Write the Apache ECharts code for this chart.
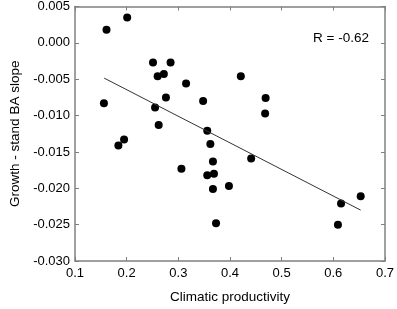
<!DOCTYPE html>
<html>
<head>
<meta charset="utf-8">
<script src="https://cdn.jsdelivr.net/npm/echarts@6/dist/echarts.min.js"></script>
<style>html,body{margin:0;padding:0;background:#fff}#c{width:397px;height:309px}</style>
</head>
<body>
<div id="c"></div>
<script>
var productivity = [0.156,0.161,0.201,0.184,0.195,0.251,0.260,0.255,0.262,0.272,0.276,0.285,0.306,0.315,0.348,0.356,0.362,0.356,0.367,0.369,0.367,0.373,0.398,0.421,0.441,0.469,0.468,0.609,0.615,0.653];
var slope = [-0.0083,0.0018,0.0035,-0.0141,-0.0133,-0.0027,-0.0046,-0.0089,-0.0113,-0.0043,-0.0075,-0.0027,-0.0173,-0.0056,-0.0080,-0.0121,-0.0139,-0.0182,-0.0163,-0.0180,-0.0201,-0.0248,-0.0197,-0.0046,-0.0159,-0.0076,-0.0097,-0.0250,-0.0221,-0.0211];
var fitX = [0.1565, 0.6529];
var fitY = [-0.00485, -0.0230];
var xTicks = ['0.1','0.2','0.3','0.4','0.5','0.6','0.7'];
var yTicks = ['0.005','0.000','-0.005','-0.010','-0.015','-0.020','-0.025','-0.030'];
var rLabel = 'R = -0.62';

var pts = productivity.map(function(x,i){return [x, slope[i]];});
var fit = fitX.map(function(x,i){return [x, fitY[i]];});
var font = 'Liberation Sans, Arial, sans-serif';
var axisCol = '#808080';
var chart = echarts.init(document.getElementById('c'));
chart.setOption({
  animation:false,
  grid:{left:66,right:10,top:5,bottom:46},
  xAxis:[{
    type:'value',min:0.1,max:0.7,interval:0.1,position:'bottom',
    name:'Climatic productivity',nameLocation:'middle',nameGap:29,
    nameTextStyle:{color:'#000',fontSize:13.5,fontFamily:font},
    axisLine:{onZero:false,lineStyle:{color:axisCol,width:1.5}},
    axisTick:{inside:true,length:4,lineStyle:{color:axisCol}},
    axisLabel:{color:'#000',fontSize:13,fontFamily:font,margin:6,formatter:function(v){var i=Math.round((v-0.1)*10);return xTicks[i];}},
    splitLine:{show:false}
  },{
    type:'value',min:0.1,max:0.7,interval:0.1,position:'top',
    axisLine:{onZero:false,lineStyle:{color:axisCol,width:1.5}},
    axisTick:{inside:true,length:4,lineStyle:{color:axisCol}},
    axisLabel:{show:false},splitLine:{show:false}
  }],
  yAxis:[{
    type:'value',min:-0.03,max:0.005,interval:0.005,position:'left',
    name:'Growth - stand BA slope',nameLocation:'middle',nameGap:53,
    nameTextStyle:{color:'#000',fontSize:13.5,fontFamily:font},
    axisLine:{onZero:false,lineStyle:{color:axisCol,width:1.5}},
    axisTick:{inside:true,length:4,lineStyle:{color:axisCol}},
    axisLabel:{color:'#000',fontSize:13,fontFamily:font,margin:5,formatter:function(v){var i=Math.round((0.005-v)/0.005);return yTicks[i];}},
    splitLine:{show:false}
  },{
    type:'value',min:-0.03,max:0.005,interval:0.005,position:'right',
    axisLine:{onZero:false,lineStyle:{color:axisCol,width:1.5}},
    axisTick:{inside:true,length:4,lineStyle:{color:axisCol}},
    axisLabel:{show:false},splitLine:{show:false}
  }],
  series:[{
    type:'line',data:fit,symbol:'none',lineStyle:{color:'#333',width:1},silent:true
  },{
    type:'scatter',data:pts,symbol:'circle',symbolSize:8,itemStyle:{color:'#000',opacity:1}
  }],
  graphic:[{type:'text',left:313,top:31,style:{text:rLabel,fill:'#000',font:'13.5px '+font}}]
});
</script>
</body>
</html>
